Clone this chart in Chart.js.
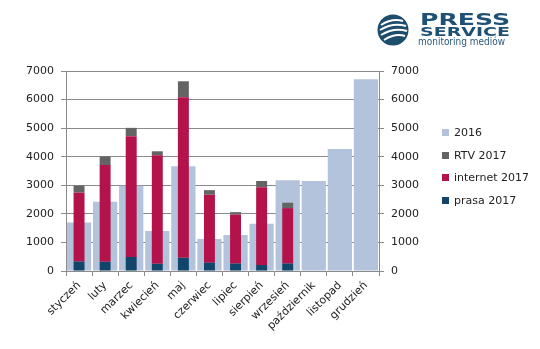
<!DOCTYPE html>
<html>
<head>
<meta charset="utf-8">
<script src="https://cdn.jsdelivr.net/npm/chart.js@4"></script>
<style>
  body { margin: 0; background: #fff; }
  #wrap { position: relative; width: 540px; height: 349px; }
  #logo { position: absolute; left: 370px; top: 6px; }
  canvas { position: absolute; left: 0; top: 0; }
  #legend { position: absolute; left: 442px; top: 124px; font: 11px "DejaVu Sans"; color: #222; }
  #legend div { height: 22.7px; line-height: 17px; white-space: nowrap; }
  #legend span { display: inline-block; width: 7px; height: 7px; margin-right: 5px; vertical-align: 0px; }
</style>
</head>
<body>
<div id="wrap">
  <canvas id="chart" width="540" height="349"></canvas>
  <svg id="logo" width="160" height="46" viewBox="0 0 160 46">
    <circle cx="23" cy="24" r="15.5" fill="#1d4d6d"/>
    <path d="M11 19 Q22 12 33 15" stroke="#fff" stroke-width="2" fill="none"/>
    <path d="M10 24 Q23 16 36 20" stroke="#fff" stroke-width="2" fill="none"/>
    <path d="M11 29 Q24 21 37 25" stroke="#fff" stroke-width="2" fill="none"/>
    <path d="M14 34 Q25 27 35 30" stroke="#fff" stroke-width="2" fill="none"/>
    <text x="50" y="19" font-family="DejaVu Sans" font-weight="bold" font-size="16" fill="#1f5175" textLength="90" lengthAdjust="spacingAndGlyphs">PRESS</text>
    <text x="50" y="30" font-family="DejaVu Sans" font-weight="bold" font-size="12.5" fill="#1f5175" textLength="90" lengthAdjust="spacingAndGlyphs">SERVICE</text>
    <text x="48" y="38.5" font-family="DejaVu Sans" font-size="10.5" fill="#2c5a7a" textLength="87" lengthAdjust="spacingAndGlyphs">monitoring mediów</text>
  </svg>
  <div id="legend"></div>
</div>
<script>
const months = ["styczeń", "luty", "marzec", "kwiecień", "maj", "czerwiec",
  "lipiec", "sierpień", "wrzesień", "październik", "listopad", "grudzień"];

const y2016 = [1700, 2420, 2980, 1400, 3670, 1120, 1260, 1650, 3180, 3150, 4270, 6710];
const prasa2017 = [330, 320, 490, 250, 460, 290, 260, 210, 260, null, null, null];
const internet2017 = [2410, 3390, 4230, 3800, 5620, 2380, 1710, 2720, 1940, null, null, null];
const rtv2017 = [250, 300, 290, 140, 560, 160, 90, 220, 190, null, null, null];

const font = { family: "DejaVu Sans", size: 11 };
const gridColor = "#8a8a8a";

const bar2017 = { stack: "2017", grouped: false, categoryPercentage: 1, barPercentage: 0.42 };

const chart = new Chart(document.getElementById("chart"), {
  type: "bar",
  data: {
    labels: months,
    datasets: [
      { label: "prasa 2017", data: prasa2017, backgroundColor: "#11466a", ...bar2017 },
      { label: "internet 2017", data: internet2017, backgroundColor: "#b3124b", ...bar2017 },
      { label: "RTV 2017", data: rtv2017, backgroundColor: "#646464", ...bar2017 },
      { label: "2016", data: y2016, backgroundColor: "#b4c3dc", stack: "2016", grouped: false, categoryPercentage: 1, barPercentage: 0.93 }
    ]
  },
  options: {
    responsive: false,
    animation: false,
    layout: { padding: { top: 71, left: 25, right: 116, bottom: 0 } },
    scales: {
      x: {
        grid: { offset: true, drawOnChartArea: false, tickLength: 5, color: gridColor },
        border: { color: gridColor },
        ticks: { font: font, color: "#222", maxRotation: 45, minRotation: 45, autoSkip: false },
        afterFit: (s) => { s.height = 78; }
      },
      y: {
        position: "left",
        stacked: true,
        min: 0,
        max: 7000,
        ticks: { stepSize: 1000, font: font, color: "#222", padding: 7, callback: (v) => String(v) },
        grid: { color: gridColor, tickLength: 5 },
        border: { color: gridColor },
        afterFit: (s) => { s.width = 41; }
      },
      y2: {
        position: "right",
        min: 0,
        max: 7000,
        ticks: { stepSize: 1000, font: font, color: "#222", padding: 7, callback: (v) => String(v) },
        grid: { drawOnChartArea: false, color: gridColor, tickLength: 5 },
        border: { color: gridColor },
        afterFit: (s) => { s.width = 45; }
      }
    },
    plugins: {
      tooltip: { enabled: false },
      legend: { display: false }
    }
  }
});

// legend, in the reverse order of the datasets
const legend = document.getElementById("legend");
chart.data.datasets.slice().reverse().forEach((ds) => {
  legend.innerHTML += `<div><span style="background:${ds.backgroundColor}"></span>${ds.label}</div>`;
});
</script>
</body>
</html>
